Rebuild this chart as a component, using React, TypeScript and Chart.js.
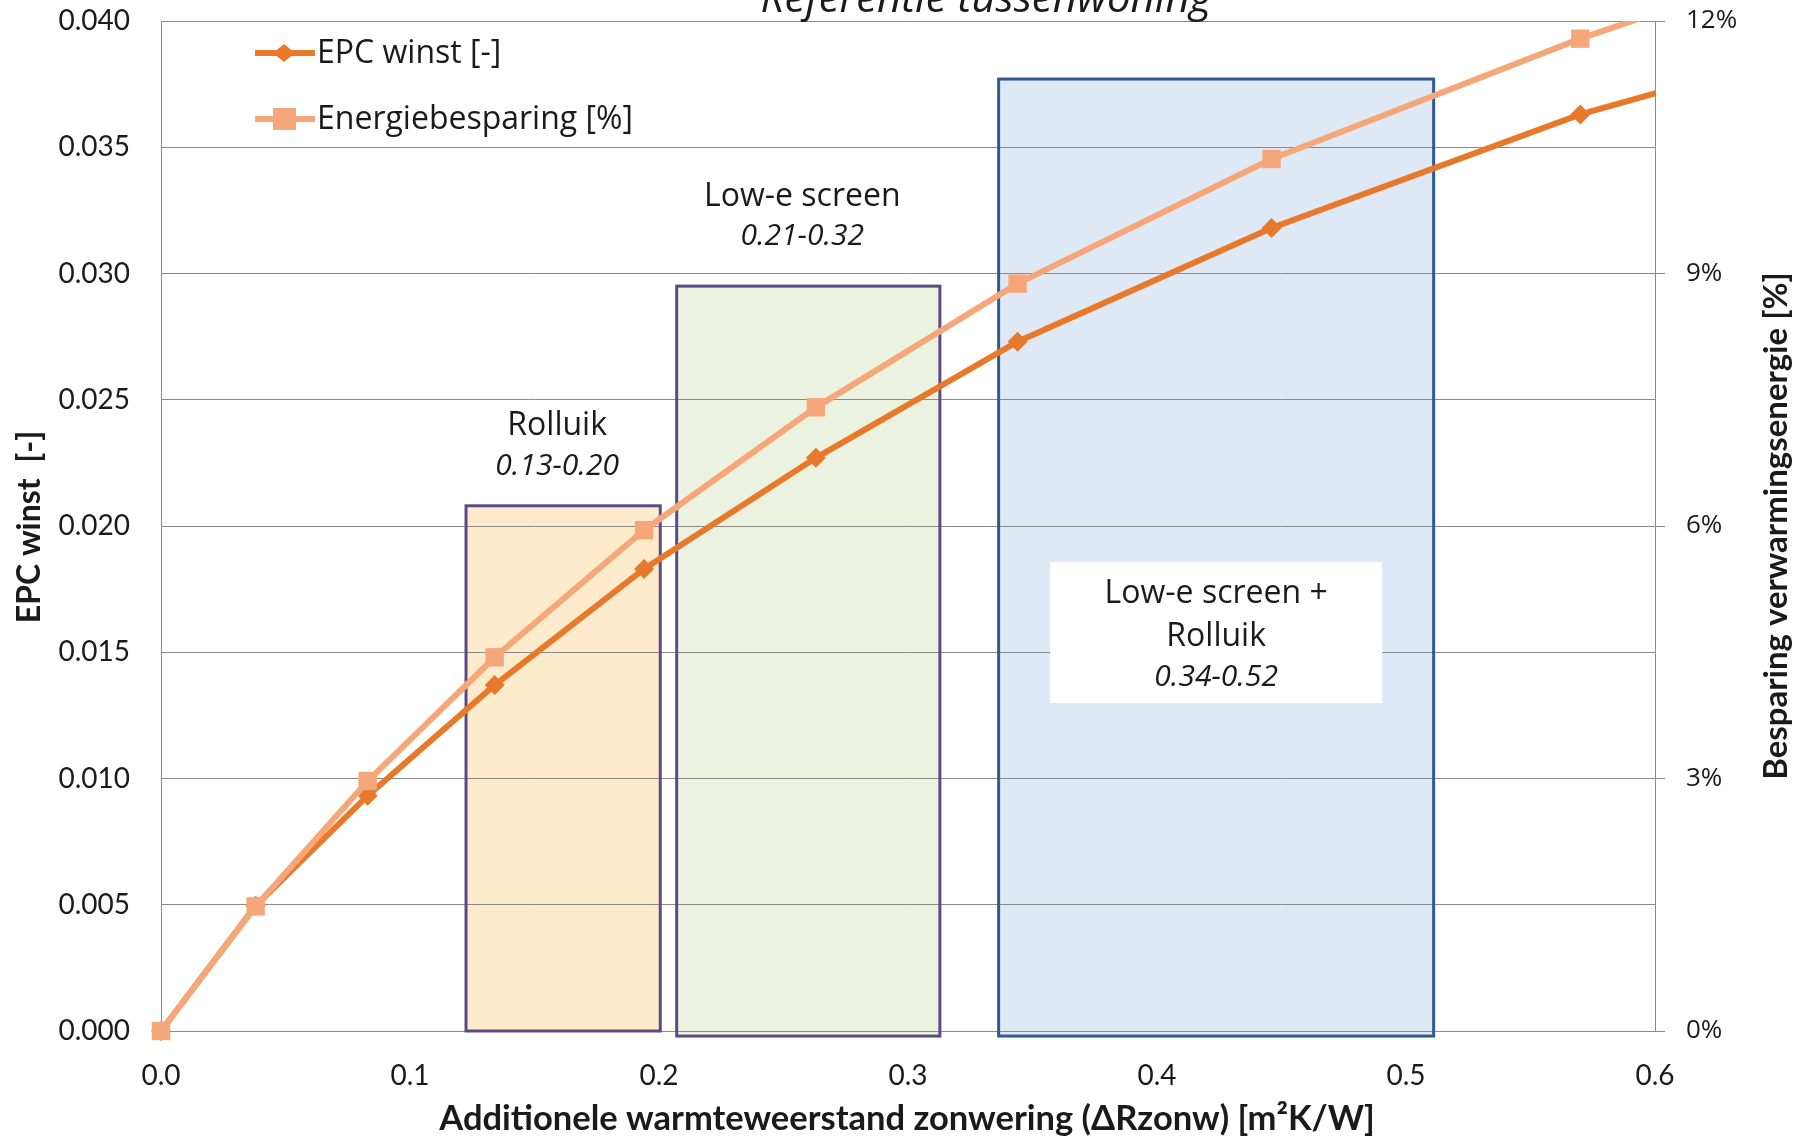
import React, { useEffect, useRef } from 'react';
import { Chart, registerables } from 'chart.js';

Chart.register(...registerables);

// ---------------- data ----------------
const seriesNames = ['EPC winst [-]', 'Energiebesparing [%]'];
const xValues = [0, 0.038, 0.083, 0.134, 0.194, 0.263, 0.344, 0.446, 0.57, 0.7];
const epcWinst = [0, 0.00496, 0.00932, 0.0137, 0.0183, 0.0227, 0.0273, 0.0318, 0.0363, 0.0399];
const energiebesparing = [0, 1.48, 2.97, 4.44, 5.95, 7.41, 8.88, 10.36, 11.79, 13.1];

const boxNameLines = [['Rolluik'], ['Low-e screen'], ['Low-e screen +', 'Rolluik']];
const boxRanges = ['0.13-0.20', '0.21-0.32', '0.34-0.52'];
const boxXFrom = [0.1225, 0.2071, 0.3364];
const boxXTo = [0.2005, 0.3128, 0.5111];
const boxYTop = [0.0208, 0.0295, 0.0377];
const boxYBottom = [0.0, -0.0002, -0.0002];

const chartTitle = 'Referentie tussenwoning';
const xTitle = 'Additionele warmteweerstand zonwering (\u0394Rzonw) [m\u00B2K/W]';
const yTitle = 'EPC winst  [-]';
const y1Title = 'Besparing verwarmingsenergie [%]';

// ---------------- styles ----------------
const EPC_COLOR = '#E8792B';
const EN_COLOR = '#F5A779';
const GRID = '#8a8a8a';
const TEXT = '#1a1a1a';
const BOX_FILL = ['#FDEBCC', '#ECF2E0', '#DFE9F5'];
const BOX_BORDER = ['#5B4A87', '#5B4A87', '#2E5B8C'];

const decorPlugin = {
  id: 'decor',
  beforeDraw(chart: any) {
    const { ctx } = chart;
    const x = chart.scales.x;
    const y = chart.scales.y;
    ctx.save();
    for (let i = 0; i < boxXFrom.length; i++) {
      const l = x.getPixelForValue(boxXFrom[i]);
      const r = x.getPixelForValue(boxXTo[i]);
      const t = y.getPixelForValue(boxYTop[i]);
      const b = y.getPixelForValue(boxYBottom[i]);
      ctx.fillStyle = BOX_FILL[i];
      ctx.fillRect(l, t, r - l, b - t);
    }
    ctx.restore();
  },
  beforeDatasetsDraw(chart: any) {
    const { ctx } = chart;
    const x = chart.scales.x;
    const y = chart.scales.y;
    ctx.save();
    for (let i = 0; i < boxXFrom.length; i++) {
      const l = x.getPixelForValue(boxXFrom[i]);
      const r = x.getPixelForValue(boxXTo[i]);
      const t = y.getPixelForValue(boxYTop[i]);
      const b = y.getPixelForValue(boxYBottom[i]);
      ctx.strokeStyle = BOX_BORDER[i];
      ctx.lineWidth = 3;
      ctx.strokeRect(l, t, r - l, b - t);
    }
    // white label panel inside the last box
    const i = 2;
    const cx = (x.getPixelForValue(boxXFrom[i]) + x.getPixelForValue(boxXTo[i])) / 2;
    const top = chart.chartArea.top + 541;
    ctx.fillStyle = '#ffffff';
    ctx.fillRect(cx - 166, top, 332, 141);
    ctx.restore();
  },
  afterDatasetsDraw(chart: any) {
    const { ctx } = chart;
    const x = chart.scales.x;
    const y = chart.scales.y;
    ctx.save();
    ctx.fillStyle = TEXT;
    ctx.textAlign = 'center';
    ctx.textBaseline = 'middle';
    const nameOff = [80, 89];
    const rangeOff = [39, 50];
    for (let i = 0; i < 2; i++) {
      const cx = (x.getPixelForValue(boxXFrom[i]) + x.getPixelForValue(boxXTo[i])) / 2 - 6;
      const t = y.getPixelForValue(boxYTop[i]);
      ctx.font = '32px "Open Sans"';
      ctx.fillText(boxNameLines[i][0], cx, t - nameOff[i]);
      ctx.font = 'italic 30px "Open Sans"';
      ctx.fillText(boxRanges[i], cx, t - rangeOff[i]);
    }
    {
      const i = 2;
      const cx = (x.getPixelForValue(boxXFrom[i]) + x.getPixelForValue(boxXTo[i])) / 2;
      const top = chart.chartArea.top + 541;
      ctx.font = '32px "Open Sans"';
      ctx.fillText(boxNameLines[i][0], cx, top + 32);
      ctx.fillText(boxNameLines[i][1], cx, top + 75);
      ctx.font = 'italic 30px "Open Sans"';
      ctx.fillText(boxRanges[i], cx, top + 115);
    }
    // legend
    const legendY = [53, 119];
    const colors = [EPC_COLOR, EN_COLOR];
    for (let k = 0; k < 2; k++) {
      const ly = legendY[k];
      ctx.strokeStyle = colors[k];
      ctx.lineWidth = 6;
      ctx.beginPath();
      ctx.moveTo(255, ly);
      ctx.lineTo(315, ly);
      ctx.stroke();
      ctx.fillStyle = colors[k];
      ctx.beginPath();
      if (k === 0) {
        ctx.moveTo(284, ly - 9);
        ctx.lineTo(295, ly);
        ctx.lineTo(284, ly + 9);
        ctx.lineTo(273, ly);
        ctx.closePath();
      } else {
        ctx.rect(273, ly - 11, 23, 22);
      }
      ctx.fill();
      ctx.fillStyle = TEXT;
      ctx.textAlign = 'left';
      ctx.font = '32px "Open Sans"';
      ctx.fillText(seriesNames[k], 317, ly + 1);
    }
    ctx.restore();
  },
  afterDraw(chart: any) {
    const { ctx } = chart;
    ctx.save();
    ctx.fillStyle = TEXT;
    // clipped title at the very top
    ctx.textAlign = 'center';
    ctx.textBaseline = 'alphabetic';
    ctx.font = 'italic 42px "Open Sans"';
    ctx.fillText(chartTitle, 986, 12);
    // axis titles
    ctx.textBaseline = 'middle';
    ctx.font = 'bold 34.5px Lato';
    ctx.fillText(xTitle, 907, 1119);
    ctx.font = 'bold 32px Lato';
    ctx.save();
    ctx.translate(30, 527);
    ctx.rotate(-Math.PI / 2);
    ctx.fillText(yTitle, 0, 0);
    ctx.restore();
    ctx.font = 'bold 33px Lato';
    ctx.save();
    ctx.translate(1776, 526);
    ctx.rotate(-Math.PI / 2);
    ctx.fillText(y1Title, 0, 0);
    ctx.restore();
    ctx.restore();
  },
};

export default function App() {
  const ref = useRef<HTMLCanvasElement>(null);
  useEffect(() => {
    const canvas = ref.current;
    if (!canvas) return;
    const chart = new Chart(canvas, {
      type: 'line',
      data: {
        datasets: [
          {
            label: seriesNames[0],
            data: xValues.map((xv, i) => ({ x: xv, y: epcWinst[i] })),
            yAxisID: 'y',
            borderColor: EPC_COLOR,
            backgroundColor: EPC_COLOR,
            borderWidth: 6,
            pointStyle: 'rectRot',
            pointRadius: 10,
            pointBorderWidth: 0,
            tension: 0,
            order: 1,
            clip: { left: 20, right: 0, top: 0, bottom: 20 },
          } as any,
          {
            label: seriesNames[1],
            data: xValues.map((xv, i) => ({ x: xv, y: energiebesparing[i] })),
            yAxisID: 'y1',
            borderColor: EN_COLOR,
            backgroundColor: EN_COLOR,
            borderWidth: 6,
            pointStyle: 'rect',
            pointRadius: 13,
            pointBorderWidth: 0,
            tension: 0,
            order: 0,
            clip: { left: 20, right: 0, top: 0, bottom: 20 },
          } as any,
        ],
      },
      options: {
        animation: false,
        responsive: false,
        devicePixelRatio: 1,
        events: [],
        layout: { padding: { top: 21, left: 0, right: 0, bottom: 0 } },
        plugins: {
          legend: { display: false },
          title: { display: false },
          tooltip: { enabled: false },
        },
        scales: {
          x: {
            type: 'linear',
            min: 0,
            max: 0.6,
            ticks: {
              stepSize: 0.1,
              padding: 20,
              color: TEXT,
              font: { family: 'Lato', size: 28 },
              maxRotation: 0,
              autoSkip: false,
              callback: (v: any) => Number(v).toFixed(1),
            },
            grid: { display: false },
            border: { display: true, color: GRID, width: 1 },
            afterFit: (s: any) => {
              s.height = 107;
              s.paddingLeft = 0;
              s.paddingRight = 0;
            },
          },
          y: {
            type: 'linear',
            position: 'left',
            min: 0,
            max: 0.04,
            ticks: {
              stepSize: 0.005,
              padding: 31,
              color: TEXT,
              font: { family: 'Lato', size: 28 },
              callback: (v: any) => Number(v).toFixed(3),
            },
            grid: { color: GRID, lineWidth: 1, drawTicks: false },
            border: { display: true, color: GRID, width: 1 },
            afterFit: (s: any) => {
              s.width = 161;
              s.paddingTop = 0;
              s.paddingBottom = 0;
            },
          },
          y1: {
            type: 'linear',
            position: 'right',
            min: 0,
            max: 12,
            ticks: {
              stepSize: 3,
              padding: 21,
              color: TEXT,
              font: { family: 'Open Sans', size: 26 },
              callback: (v: any) => `${Number(v).toFixed(0)}%`,
            },
            grid: { drawOnChartArea: false, drawTicks: true, tickLength: 10, color: GRID },
            border: { display: true, color: GRID, width: 1 },
            afterFit: (s: any) => {
              s.width = 153;
              s.paddingTop = 0;
              s.paddingBottom = 0;
            },
          },
        },
      } as any,
      plugins: [decorPlugin],
    });
    return () => chart.destroy();
  }, []);
  return (
    <div style={{ position: 'absolute', left: 0, top: 0, width: 1808, height: 1138, background: '#ffffff' }}>
      <canvas ref={ref} width={1808} height={1138} style={{ display: 'block' }} />
    </div>
  );
}
